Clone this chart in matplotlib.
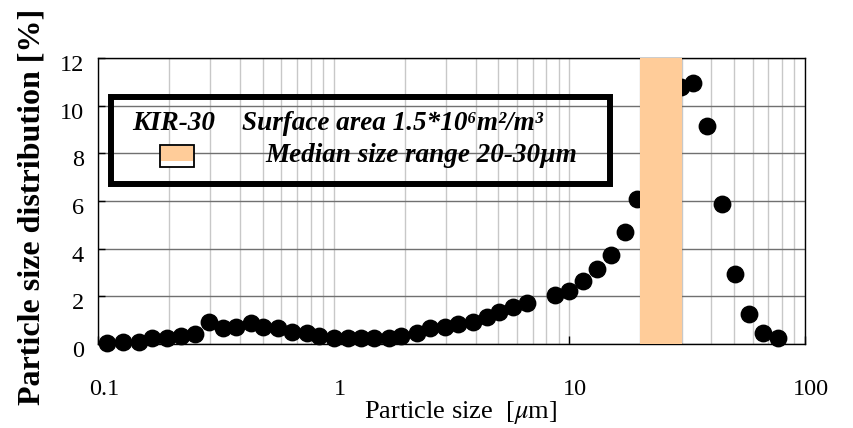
import numpy as np
import matplotlib
matplotlib.use('Agg')
import matplotlib.pyplot as plt
from matplotlib.patches import Rectangle
from matplotlib.transforms import ScaledTranslation

# data
size_um = [0.109, 0.128, 0.150, 0.169, 0.197, 0.226, 0.258, 0.297, 0.338, 0.385,
           0.446, 0.503, 0.582, 0.663, 0.768, 0.869, 1.0, 1.146, 1.30, 1.49,
           1.71, 1.94, 2.25, 2.56, 2.97, 3.36, 3.89, 4.46, 5.04, 5.78,
           6.63, 8.69, 10.0, 11.46, 13.06, 14.97, 17.2, 19.3, 29.9, 33.6,
           38.5, 44.3, 50.4, 58.0, 66.5, 76.5]
dist_pct = [0.03, 0.10, 0.10, 0.24, 0.24, 0.34, 0.42, 0.94, 0.66, 0.70,
            0.87, 0.73, 0.66, 0.52, 0.45, 0.34, 0.24, 0.24, 0.24, 0.24,
            0.24, 0.34, 0.45, 0.66, 0.73, 0.84, 0.94, 1.12, 1.33, 1.54,
            1.73, 2.06, 2.24, 2.63, 3.13, 3.73, 4.71, 6.07, 10.77, 10.97,
            9.15, 5.87, 2.92, 1.25, 0.45, 0.24]
median_range = (20, 30)
x_ticks = [0.1, 1, 10, 100]
x_tick_labels = ['0.1', '1', '10', '100']
y_ticks = [0, 2, 4, 6, 8, 10, 12]

serif = ['Liberation Serif', 'DejaVu Serif']
plt.rcParams['font.family'] = serif
plt.rcParams['mathtext.fontset'] = 'stix'

W, H = 854, 428
fig = plt.figure(figsize=(W / 100, H / 100), dpi=100)

def fx(px):
	return px / W

def fy(py):
	return 1 - py / H

ax = fig.add_axes([fx(98), fy(344), fx(805) - fx(98), fy(58) - fy(344)])
ax.set_xscale('log')
ax.set_xlim(0.1, 100)
ax.set_ylim(0, 12)

# grid
ax.set_xticks(x_ticks)
ax.set_xticklabels(x_tick_labels)
ax.set_yticks(y_ticks)
ax.grid(True, which='both', axis='x', color='#c8c8c8', lw=1.0, zorder=0)
ax.grid(True, which='major', axis='y', color='#707070', lw=1.0, zorder=0)
ax.set_axisbelow(True)

ax.tick_params(axis='x', which='major', direction='in', length=6, width=1,
               labelsize=17.5, pad=24)
ax.tick_params(axis='x', which='minor', length=0)
ax.tick_params(axis='y', direction='in', length=5, width=1, labelsize=17.5, pad=10)
for lab in ax.get_xticklabels():
	lab.set_transform(lab.get_transform() + ScaledTranslation(0.06, -0.02, fig.dpi_scale_trans))
for lab in ax.get_yticklabels():
	lab.set_transform(lab.get_transform() + ScaledTranslation(0, -0.05, fig.dpi_scale_trans))
for s in ax.spines.values():
	s.set_color('black')
	s.set_linewidth(1.0)

# points and the median band
ax.scatter(size_um, dist_pct, s=140, color='black', zorder=3, clip_on=False)
ax.axvspan(median_range[0], median_range[1], color='#ffcc99', lw=0, zorder=4)

# labels
fig.text(fx(461), fy(413), 'Particle size  [$\\mathit{\\mu}$m]', fontsize=19,
         ha='center', va='center')
fig.text(fx(32), fy(207), 'Particle size distribution [%]', fontsize=23,
         fontweight='bold', rotation=90, ha='center', va='center')

# legend-like box
fig.patches.append(Rectangle((fx(111), fy(184)), fx(610) - fx(111), fy(97) - fy(184),
                             transform=fig.transFigure, fill=False,
                             edgecolor='black', lw=4.3, zorder=5))
fig.patches.append(Rectangle((fx(160), fy(167)), fx(194) - fx(160), fy(145) - fy(167),
                             transform=fig.transFigure, facecolor='white',
                             edgecolor='black', lw=1.3, zorder=5))
fig.patches.append(Rectangle((fx(161), fy(161)), fx(193) - fx(161), fy(146) - fy(161),
                             transform=fig.transFigure, facecolor='#ffcc99',
                             lw=0, zorder=6))
fig.text(fx(132), fy(123), 'KIR-30', fontsize=19.5, fontweight='bold', style='italic',
         ha='left', va='center', zorder=6)
fig.text(fx(242), fy(123), 'Surface area 1.5*10\u2076m\u00b2/m\u00b3', fontsize=19.5,
         fontweight='bold', style='italic', ha='left', va='center', zorder=6)
fig.text(fx(265), fy(156), 'Median size range 20-30\u00b5m', fontsize=19.5,
         fontweight='bold', style='italic', ha='left', va='center', zorder=6)

fig.savefig('out.png', dpi=100)
